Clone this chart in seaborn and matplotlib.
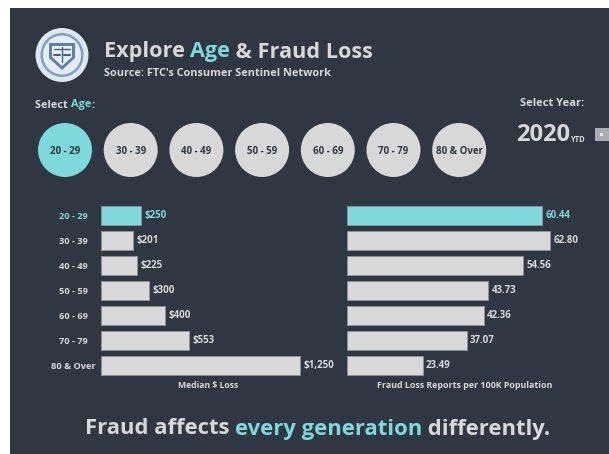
import seaborn as sns
import matplotlib.pyplot as plt
from matplotlib.patches import Ellipse, Rectangle, Polygon

ages = ['20 - 29', '30 - 39', '40 - 49', '50 - 59', '60 - 69', '70 - 79', '80 & Over']
median_loss = [250, 201, 225, 300, 400, 553, 1250]
reports_per_100k = [60.44, 62.80, 54.56, 43.73, 42.36, 37.07, 23.49]
selected_age = '20 - 29'

BG = '#2f3842'
TEAL = '#7fd8dc'
GREY = '#d9d8d9'
TEXT = '#d8d8d8'

sns.set_theme(style='dark')
plt.rcParams['font.family'] = ['Open Sans', 'DejaVu Sans']

W, H = 609, 454
fig = plt.figure(figsize=(W / 100, H / 100), dpi=100, facecolor='white')

# overlay in pixel coords for the dashboard bits
bg = fig.add_axes([0, 0, 1, 1])
bg.set_xlim(0, W)
bg.set_ylim(H, 0)
bg.axis('off')
bg.add_patch(Rectangle((10, 8), W - 10, H - 8, fc=BG, ec='none'))


def pieces(x, y, parts, size, weight='bold'):
    # draws text parts one after another, for the coloured words
    r = fig.canvas.get_renderer()
    for s, c in parts:
        t = bg.text(x, y, s, color=c, fontsize=size, fontweight=weight, va='center', ha='left')
        x = bg.transData.inverted().transform(t.get_window_extent(r))[1][0]


# logo
bg.add_patch(Ellipse((62, 55), 53, 54, fc='#dfe7f0', ec='none'))
bg.add_patch(Ellipse((62, 55), 43, 44, fc='#7f9fca', ec='none'))
bg.add_patch(Ellipse((62, 55), 38, 39, fc='#e6ecf3', ec='none'))
bg.add_patch(Polygon([(49, 43), (75, 43), (75, 58), (62, 70), (49, 58)], fc='#5d7fb0', ec='none'))
bg.add_patch(Polygon([(52, 46), (72, 46), (72, 57), (62, 66), (52, 57)], fc='#eef2f7', ec='none'))
bg.plot([62, 62], [47, 62], color='#3f5f90', lw=1)
bg.plot([54, 70], [49, 49], color='#3f5f90', lw=1)
bg.plot([54, 60], [55, 55], color='#3f5f90', lw=1.5)
bg.plot([64, 70], [55, 55], color='#3f5f90', lw=1.5)

pieces(104, 52, [('Explore ', TEXT), ('Age', TEAL), (' & Fraud Loss', TEXT)], 15.6)
bg.text(104, 74, "Source: FTC's Consumer Sentinel Network", color=TEXT, fontsize=7.8, fontweight='bold', va='center')
pieces(35, 105, [('Select ', TEXT), ('Age', TEAL), (':', TEXT)], 7.8)
bg.text(520, 103, 'Select Year:', color=TEXT, fontsize=8, fontweight='bold', va='center')
bg.text(516, 135, '2020', color=TEXT, fontsize=17, fontweight='bold', va='center')
bg.text(570, 139, 'YTD', color=TEXT, fontsize=5.5, fontweight='bold', va='center')
bg.add_patch(Rectangle((595, 128), 14, 13, fc='#a9adb1', ec='none'))
bg.add_patch(Rectangle((600, 133), 3, 3, fc='#e8e8e8', ec='none'))

# age buttons
for i, a in enumerate(ages):
    cx = 65 + i * 65.7
    bg.add_patch(Ellipse((cx, 150), 54, 54, fc=TEAL if a == selected_age else GREY, ec='none'))
    bg.text(cx, 151, a, color='#2f3943', fontsize=7, fontweight='bold', ha='center', va='center')

pieces(85, 429, [('Fraud affects ', TEXT), ('every generation', TEAL), (' differently.', TEXT)], 15.8)

highlight = [a == selected_age for a in ages]


def bar_panel(left, width, xmax, values, fmt, xlabel, label_size):
    ax = fig.add_axes([left / W, 1 - 378.2 / H, width / W, 175.7 / H])
    ax.patch.set_alpha(0)
    sns.barplot(x=values, y=ages, hue=highlight, palette={True: TEAL, False: GREY}, dodge=False,
                legend=False, width=0.76, saturation=1, edgecolor='#8f9499', linewidth=0.6, ax=ax)
    ax.set_xlim(0, xmax)
    ax.set_ylim(6.5, -0.5)
    ax.set_xticks([])
    sns.despine(ax=ax, left=True, bottom=True)
    ax.grid(False)
    for c in ax.containers:
        labels = ax.bar_label(c, fmt=fmt, padding=2.5, fontsize=7, fontweight='bold', color=TEXT)
        if len(c) == 1:
            labels[0].set_color(TEAL)
    ax.set_xlabel(xlabel, color=TEXT, fontsize=label_size, fontweight='bold', labelpad=2)
    return ax


left_ax = bar_panel(101, 214, 214 / 0.159, median_loss, '${:,.0f}', 'Median $ Loss', 6.2)
left_ax.tick_params(axis='y', length=0, pad=20, labelsize=6.7)
for lab in left_ax.get_yticklabels():
    lab.set_ha('center')
    lab.set_fontweight('bold')
    lab.set_color(TEAL if lab.get_text() == selected_age else TEXT)

right_ax = bar_panel(346.5, 237, 237 / 3.24, reports_per_100k, '{:.2f}',
                     'Fraud Loss Reports per 100K Population', 6.4)
right_ax.set_yticks([])
right_ax.set_ylabel('')

fig.savefig('out.png', dpi=100, facecolor='white')
